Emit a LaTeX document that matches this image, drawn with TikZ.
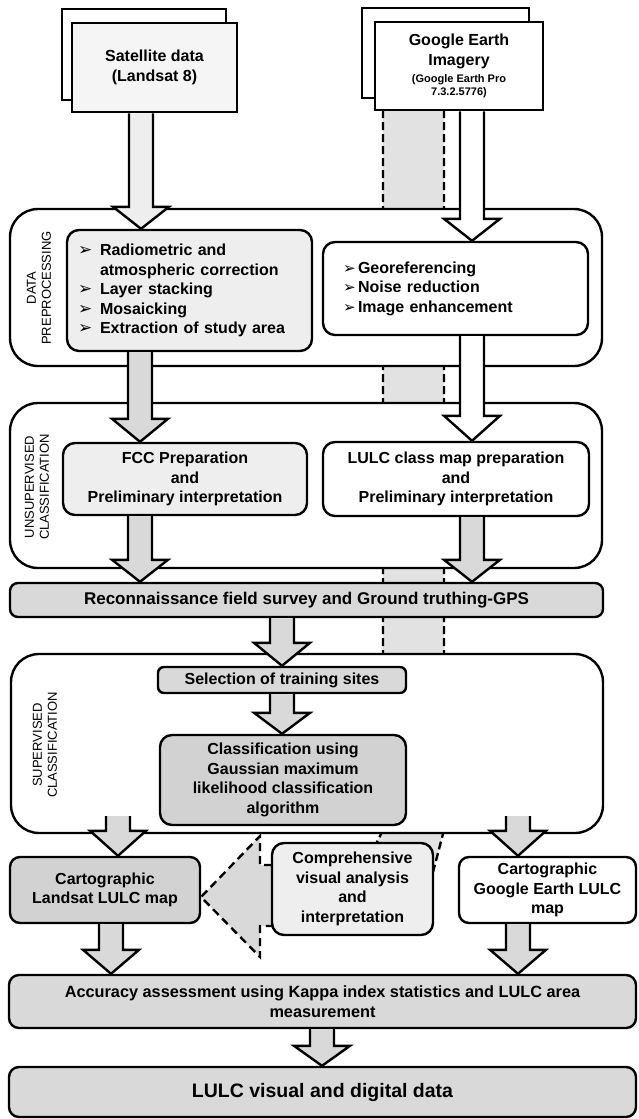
\documentclass[tikz,border=0pt]{standalone}
\usepackage{fontspec}
\setmainfont{Liberation Sans}
\newfontfamily\dvfont{DejaVu Sans}
\usetikzlibrary{calc}
\definecolor{gA}{HTML}{D9D9D9}
\definecolor{gB}{HTML}{EEEEEE}
\definecolor{gC}{HTML}{D2D2D2}
\definecolor{gBand}{HTML}{E2E2E2}
\newcommand\bul{\makebox[22pt][l]{\dvfont\fontsize{17}{17}\selectfont ➢}}
\newcommand\bulr{\makebox[15pt][l]{\dvfont\fontsize{15}{15}\selectfont ➢}}
\newcommand\bnode[7]{%
  \pgfmathsetmacro\bw{#5-#3}\pgfmathsetmacro\bh{#6-#4}%
  \pgfmathsetmacro\bcx{(#3+#5)/2}\pgfmathsetmacro\bcy{(#4+#6)/2}%
  \node[#1, minimum width=\bw pt, minimum height=\bh pt] (#2) at (\bcx,\bcy) {#7};}
\newcommand\barrow[6]{%
  \path[fill=#1] let \p1=(#3.south), \p2=(#4.north) in
    (#2pt-12pt,\y1+#6pt) -- (#2pt-12pt,\y2+#5pt) -- (#2pt-28pt,\y2+#5pt) -- (#2pt,\y2)
    -- (#2pt+28pt,\y2+#5pt) -- (#2pt+12pt,\y2+#5pt) -- (#2pt+12pt,\y1+#6pt) -- cycle;
  \draw[arrline] let \p1=(#3.south), \p2=(#4.north) in
    (#2pt-12pt,\y1+#6pt) -- (#2pt-12pt,\y2+#5pt) -- (#2pt-28pt,\y2+#5pt) -- (#2pt,\y2)
    -- (#2pt+28pt,\y2+#5pt) -- (#2pt+12pt,\y2+#5pt) -- (#2pt+12pt,\y1+#6pt);}
\tikzset{
  bx/.style={draw=black, line width=2.4pt, rounded corners=12pt, inner sep=0pt, align=center,
    font=\fontsize{16}{19.5}\selectfont\bfseries},
  outerbox/.style={draw=black, line width=2.4pt, rounded corners=28pt, fill=white, inner sep=0pt},
  plainrect/.style={draw=black, line width=2.8pt, fill=white, inner sep=0pt, align=center,
    font=\fontsize{16}{20}\selectfont\bfseries},
  sidelabel/.style={rotate=90, align=center, inner sep=0pt, font=\fontsize{13}{15}\selectfont},
  bandedge/.style={draw=black, line width=2.4pt, dash pattern=on 8pt off 4pt},
  arrline/.style={draw=black, line width=2.4pt, line join=miter},
  dasharrow/.style={fill=gA, draw=black, line width=2.4pt, dash pattern=on 8pt off 5pt},
}
\begin{document}
\begin{tikzpicture}[x=1pt,y=-1pt]
\useasboundingbox (0,0) rectangle (639,1119);
% grey band from Google Earth imagery to visual analysis
\fill[gBand] (383,110) -- (444,110) -- (444,830) -- (433,872) -- (372,852) -- (383,830) -- cycle;
\draw[bandedge] (383,110) -- (383,830) -- (372,852);
\draw[bandedge] (444,110) -- (444,830) -- (433,872);
% input stacks
\bnode{plainrect}{satback}{62}{9}{226}{100}{}
\bnode{plainrect, fill=gB!60}{sat}{72}{23}{237}{112}{Satellite data\\(Landsat 8)}
\bnode{plainrect}{gback}{362}{8}{529}{98}{}
\bnode{plainrect}{gfront}{375}{22}{543}{110}{Google Earth\\Imagery\\[-3pt]{\fontsize{11}{12}\selectfont (Google Earth Pro}\\[-7pt]{\fontsize{11}{12}\selectfont 7.3.2.5776)}}
% outer group boxes
\bnode{outerbox}{pre}{10}{209}{602}{366}{}
\bnode{outerbox}{unsup}{10}{403}{602}{568}{}
\bnode{outerbox}{sup}{11}{654}{603}{833}{}
\node[sidelabel] (lblpre) at (39,288) {DATA\\PREPROCESSING};
\node[sidelabel] (lblunsup) at (37,487) {UNSUPERVISED\\CLASSIFICATION};
\node[sidelabel] (lblsup) at (45,745) {SUPERVISED\\CLASSIFICATION};
% preprocessing
\bnode{bx, fill=gB, align=left, text width=223pt, inner xsep=11pt}{pre1}{67}{230}{312}{351}{\bul Radiometric and\\\hspace*{22pt}atmospheric correction\\\bul Layer stacking\\\bul Mosaicking\\\bul Extraction of study area}
\bnode{bx, fill=white, align=left, text width=225pt, inner xsep=20pt}{pre2}{323}{242}{588}{335}{\bulr Georeferencing\\\bulr Noise reduction\\\bulr Image enhancement}
% unsupervised
\bnode{bx, fill=gB}{fcc}{63}{443}{307}{515}{FCC Preparation\\and\\Preliminary interpretation}
\bnode{bx, fill=white}{lulc}{323}{442}{589}{516}{LULC class map preparation\\and\\Preliminary interpretation}
% field survey
\bnode{bx, fill=gA, rounded corners=8pt, font=\fontsize{17}{20}\selectfont\bfseries}{recon}{10}{583}{603}{617}{Reconnaissance field survey and Ground truthing-GPS}
% supervised
\bnode{bx, fill=gA, rounded corners=6pt}{sel}{158}{667}{406}{693}{Selection of training sites}
\bnode{bx, fill=gC}{cls}{160}{735}{406}{825}{Classification using\\Gaussian maximum\\likelihood classification\\algorithm}
% visual analysis arrow
\filldraw[dasharrow] (272,865) -- (260,865) -- (260,836) -- (201,897) -- (260,957) -- (260,926) -- (272,926);
\bnode{bx, fill=gC, rounded corners=10pt}{land}{10}{857}{200}{923}{Cartographic\\Landsat LULC map}
\bnode{bx, fill=gB}{comp}{272}{843}{433}{935}{Comprehensive\\visual analysis\\and\\interpretation}
\bnode{bx, fill=white, rounded corners=10pt}{glulc}{459}{857}{636}{923}{Cartographic\\Google Earth LULC\\map}
\bnode{bx, fill=gA, rounded corners=10pt, font=\fontsize{16.3}{20.5}\selectfont\bfseries}{acc}{9}{975}{636}{1028}{Accuracy assessment using Kappa index statistics and LULC area\\measurement}
\bnode{bx, fill=gA, rounded corners=10pt, font=\fontsize{19.5}{22}\selectfont\bfseries}{final}{9}{1067}{636}{1117}{LULC visual and digital data}
% block arrows
\barrow{gB}{141}{sat}{pre1}{22}{0}
\barrow{white}{472}{gfront}{pre2}{22}{0}
\barrow{gA}{140}{pre1}{fcc}{23}{0}
\barrow{white}{472}{pre2}{lulc}{25}{0}
\barrow{gA}{140}{fcc}{recon}{22}{0}
\barrow{gA}{472}{lulc}{recon}{22}{0}
\barrow{gA}{282}{recon}{sel}{23}{0}
\barrow{gA}{282}{sel}{cls}{21}{0}
\barrow{gA}{118}{sup}{land}{25}{18}
\barrow{gA}{518}{sup}{glulc}{25}{18}
\barrow{gA}{111}{land}{acc}{24}{0}
\barrow{gA}{518}{glulc}{acc}{24}{0}
\barrow{gA}{322}{acc}{final}{20}{0}
\end{tikzpicture}
\end{document}
